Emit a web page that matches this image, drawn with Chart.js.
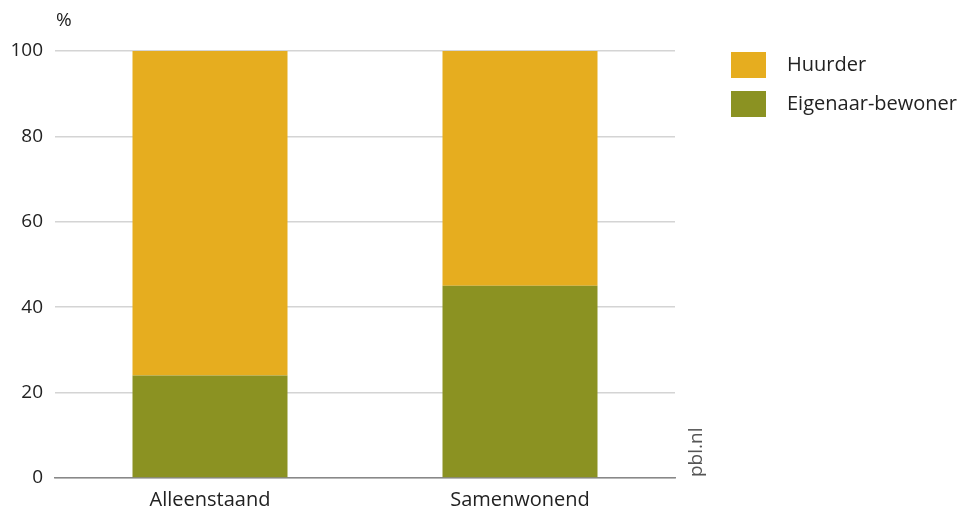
<!DOCTYPE html>
<html>
<head>
<meta charset="utf-8">
<script src="https://cdn.jsdelivr.net/npm/chart.js@4"></script>
<style>
  html, body { margin: 0; padding: 0; background: #fff; }
  #wrap { position: relative; width: 960px; height: 506px; }
</style>
</head>
<body>
<div id="wrap"><canvas id="chart" width="960" height="506"></canvas></div>
<script>
const categories = ['Alleenstaand', 'Samenwonend'];
const eigenaar = [24, 45];
const huurder = [76, 55];
const yTicks = [0, 20, 40, 60, 80, 100];

const FONT = '"Open Sans", "DejaVu Sans", sans-serif';

// legend + unit label + source text drawn beside the plot
const sidePlugin = {
    id: 'side',
    afterDraw(chart) {
        const { ctx, chartArea } = chart;
        ctx.save();
        ctx.fillStyle = '#222';
        ctx.font = '19px ' + FONT;
        ctx.textAlign = 'left';
        ctx.textBaseline = 'middle';
        ctx.fillText('%', 56, 21);

        // legend, top series first
        const items = chart.data.datasets.slice().reverse();
        items.forEach((ds, i) => {
            const y = 52 + i * 39;
            ctx.fillStyle = ds.backgroundColor;
            ctx.fillRect(731, y, 35, 26);
            ctx.fillStyle = '#222';
            ctx.font = '20px ' + FONT;
            ctx.fillText(ds.label, 787, y + 13);
        });

        // source
        ctx.translate(chartArea.right + 22, chartArea.bottom - 1);
        ctx.rotate(-Math.PI / 2);
        ctx.font = '19px ' + FONT;
        ctx.fillStyle = '#555';
        ctx.textAlign = 'left';
        ctx.fillText('pbl.nl', 0, 0);
        ctx.restore();
    }
};

new Chart(document.getElementById('chart'), {
    type: 'bar',
    data: {
        labels: categories,
        datasets: [
            { label: 'Eigenaar-bewoner', data: eigenaar, backgroundColor: '#8B9222' },
            { label: 'Huurder', data: huurder, backgroundColor: '#E6AD1F' }
        ]
    },
    options: {
        responsive: false,
        animation: false,
        barPercentage: 1,
        categoryPercentage: 0.5,
        layout: { padding: { top: 51, right: 285, bottom: 0, left: 0 } },
        plugins: { legend: { display: false }, tooltip: { enabled: false } },
        scales: {
            x: {
                stacked: true,
                grid: { display: false },
                border: { display: true, color: '#888', width: 1.5 },
                ticks: { color: '#222', font: { family: FONT, size: 20 }, padding: 2 },
                afterFit(scale) { scale.height = 28; }
            },
            y: {
                stacked: true,
                min: 0,
                max: 100,
                afterBuildTicks(scale) { scale.ticks = yTicks.map(v => ({ value: v })); },
                grid: { color: '#d4d4d4', drawTicks: false, lineWidth: 1.5 },
                border: { display: false },
                ticks: { color: '#222', font: { family: FONT, size: 19 }, padding: 12 },
                afterFit(scale) { scale.width = 55; }
            }
        }
    },
    plugins: [sidePlugin]
});
</script>
</body>
</html>
